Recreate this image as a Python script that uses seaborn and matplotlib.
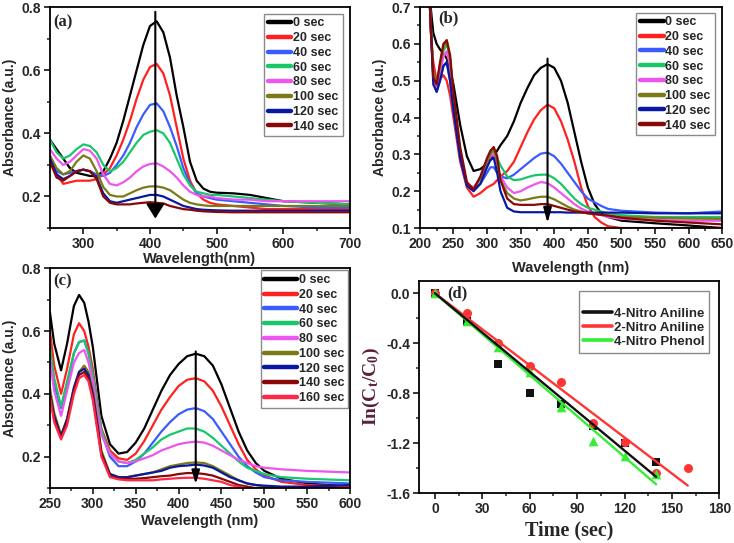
import numpy as np
import pandas as pd
import matplotlib
matplotlib.use("Agg")
import matplotlib.pyplot as plt
from matplotlib.lines import Line2D
from matplotlib.ticker import MultipleLocator, FormatStrFormatter
import seaborn as sns

# ---------------- data ----------------
# panel (a): 4-nitro aniline spectra
wl_a = [250, 260, 270, 280, 290, 300, 310, 320, 330, 340, 350, 360, 370, 380, 390, 400,
        410, 420, 430, 440, 450, 460, 470, 480, 490, 500, 525, 550, 575, 600, 650, 700]
a_0 = [0.38, 0.35, 0.32, 0.29, 0.275, 0.27, 0.265, 0.265, 0.28, 0.32, 0.37, 0.44, 0.52, 0.60, 0.68, 0.74,
       0.755, 0.72, 0.64, 0.52, 0.42, 0.31, 0.25, 0.225, 0.215, 0.212, 0.21, 0.205, 0.195, 0.185, 0.18, 0.175]
a_20 = [0.33, 0.27, 0.24, 0.245, 0.25, 0.25, 0.25, 0.255, 0.27, 0.29, 0.33, 0.38, 0.44, 0.51, 0.57, 0.61,
        0.62, 0.59, 0.52, 0.42, 0.32, 0.25, 0.21, 0.19, 0.18, 0.175, 0.17, 0.165, 0.16, 0.16, 0.16, 0.16]
a_40 = [0.32, 0.28, 0.27, 0.275, 0.28, 0.285, 0.28, 0.27, 0.265, 0.275, 0.30, 0.33, 0.37, 0.42, 0.46, 0.49,
        0.495, 0.47, 0.42, 0.36, 0.29, 0.24, 0.21, 0.20, 0.195, 0.19, 0.185, 0.18, 0.175, 0.17, 0.165, 0.165]
a_60 = [0.38, 0.34, 0.32, 0.33, 0.35, 0.365, 0.36, 0.34, 0.30, 0.28, 0.29, 0.31, 0.34, 0.37, 0.395, 0.405,
        0.41, 0.40, 0.37, 0.32, 0.27, 0.235, 0.215, 0.21, 0.205, 0.205, 0.20, 0.195, 0.19, 0.185, 0.18, 0.175]
a_80 = [0.35, 0.32, 0.30, 0.31, 0.33, 0.35, 0.345, 0.32, 0.27, 0.24, 0.235, 0.245, 0.26, 0.28, 0.295, 0.303,
        0.305, 0.295, 0.28, 0.26, 0.235, 0.215, 0.205, 0.20, 0.20, 0.195, 0.19, 0.19, 0.185, 0.185, 0.185, 0.185]
a_100 = [0.33, 0.29, 0.27, 0.28, 0.31, 0.33, 0.32, 0.28, 0.23, 0.205, 0.20, 0.20, 0.21, 0.22, 0.228, 0.232,
         0.232, 0.228, 0.22, 0.205, 0.19, 0.18, 0.175, 0.172, 0.17, 0.17, 0.17, 0.17, 0.17, 0.17, 0.17, 0.17]
a_120 = [0.32, 0.27, 0.255, 0.265, 0.28, 0.285, 0.28, 0.26, 0.21, 0.185, 0.18, 0.185, 0.19, 0.195, 0.20, 0.205,
         0.205, 0.20, 0.19, 0.18, 0.17, 0.165, 0.16, 0.158, 0.157, 0.156, 0.155, 0.155, 0.155, 0.155, 0.155, 0.155]
a_140 = [0.31, 0.26, 0.25, 0.265, 0.28, 0.285, 0.28, 0.255, 0.20, 0.18, 0.175, 0.175, 0.175, 0.178, 0.18, 0.182,
         0.18, 0.178, 0.17, 0.165, 0.16, 0.158, 0.155, 0.153, 0.152, 0.151, 0.15, 0.15, 0.15, 0.15, 0.15, 0.15]

# panel (b): 2-nitro aniline spectra
wl_b = [215, 220, 225, 230, 235, 240, 245, 250, 260, 270, 280, 290, 300, 305, 310, 315, 320,
        330, 340, 350, 360, 370, 380, 390, 400, 410, 420, 430, 440, 450, 460, 470, 480, 500, 550, 600, 650]
b_0 = [0.72, 0.63, 0.60, 0.585, 0.575, 0.56, 0.53, 0.49, 0.38, 0.295, 0.255, 0.26, 0.275, 0.285, 0.295, 0.31, 0.325,
       0.35, 0.39, 0.44, 0.48, 0.515, 0.535, 0.545, 0.535, 0.50, 0.44, 0.36, 0.28, 0.21, 0.165, 0.14, 0.13, 0.12, 0.113, 0.107, 0.10]
b_20 = [0.66, 0.55, 0.50, 0.505, 0.515, 0.50, 0.46, 0.40, 0.28, 0.21, 0.185, 0.195, 0.21, 0.215, 0.22, 0.23, 0.24,
        0.255, 0.28, 0.32, 0.36, 0.395, 0.42, 0.435, 0.425, 0.39, 0.34, 0.28, 0.21, 0.16, 0.13, 0.115, 0.105, 0.10, 0.10, 0.10, 0.10]
b_40 = [0.68, 0.52, 0.47, 0.50, 0.54, 0.55, 0.50, 0.42, 0.29, 0.215, 0.205, 0.22, 0.25, 0.265, 0.265, 0.25, 0.24,
        0.235, 0.245, 0.26, 0.275, 0.29, 0.302, 0.305, 0.295, 0.275, 0.25, 0.225, 0.20, 0.18, 0.17, 0.16, 0.152, 0.147, 0.142, 0.14, 0.145]
b_60 = [0.70, 0.52, 0.49, 0.54, 0.58, 0.60, 0.56, 0.45, 0.30, 0.22, 0.21, 0.235, 0.28, 0.30, 0.31, 0.29, 0.27,
        0.24, 0.23, 0.232, 0.238, 0.243, 0.245, 0.245, 0.235, 0.22, 0.20, 0.18, 0.165, 0.155, 0.15, 0.145, 0.14, 0.135, 0.13, 0.13, 0.13]
b_80 = [0.70, 0.50, 0.48, 0.52, 0.565, 0.58, 0.54, 0.44, 0.30, 0.22, 0.21, 0.235, 0.275, 0.295, 0.30, 0.27, 0.24,
        0.21, 0.195, 0.20, 0.21, 0.218, 0.225, 0.222, 0.21, 0.195, 0.18, 0.165, 0.153, 0.145, 0.14, 0.135, 0.13, 0.125, 0.122, 0.12, 0.12]
b_100 = [0.70, 0.51, 0.49, 0.54, 0.59, 0.61, 0.56, 0.45, 0.30, 0.215, 0.205, 0.235, 0.28, 0.30, 0.315, 0.28, 0.23,
         0.195, 0.18, 0.175, 0.178, 0.182, 0.185, 0.185, 0.178, 0.168, 0.158, 0.15, 0.145, 0.14, 0.138, 0.136, 0.134, 0.13, 0.128, 0.126, 0.125]
b_120 = [0.70, 0.49, 0.47, 0.50, 0.54, 0.55, 0.50, 0.42, 0.29, 0.215, 0.20, 0.22, 0.265, 0.285, 0.29, 0.25, 0.20,
         0.155, 0.145, 0.143, 0.143, 0.143, 0.143, 0.143, 0.143, 0.143, 0.142, 0.142, 0.142, 0.142, 0.142, 0.142, 0.142, 0.142, 0.14, 0.14, 0.14]
b_140 = [0.70, 0.51, 0.49, 0.55, 0.60, 0.61, 0.57, 0.47, 0.32, 0.225, 0.205, 0.24, 0.29, 0.31, 0.32, 0.295, 0.23,
         0.18, 0.165, 0.163, 0.163, 0.163, 0.165, 0.165, 0.16, 0.155, 0.15, 0.145, 0.143, 0.14, 0.138, 0.136, 0.134, 0.128, 0.12, 0.115, 0.11]

# panel (c): 4-nitro phenol spectra
wl_c = [250, 255, 263, 270, 278, 284, 290, 295, 300, 305, 310, 320, 330, 340, 350, 360, 370, 380, 390,
        400, 410, 420, 430, 440, 450, 460, 470, 480, 490, 500, 520, 550, 600]
c_0 = [0.66, 0.56, 0.475, 0.56, 0.68, 0.715, 0.69, 0.63, 0.55, 0.44, 0.33, 0.24, 0.21, 0.215, 0.245, 0.29, 0.35, 0.41, 0.46,
       0.495, 0.52, 0.528, 0.52, 0.49, 0.43, 0.355, 0.28, 0.22, 0.18, 0.155, 0.13, 0.115, 0.105]
c_20 = [0.60, 0.49, 0.40, 0.48, 0.59, 0.625, 0.60, 0.55, 0.48, 0.38, 0.29, 0.22, 0.195, 0.19, 0.21, 0.25, 0.30, 0.35, 0.39,
        0.425, 0.445, 0.45, 0.44, 0.41, 0.36, 0.30, 0.24, 0.19, 0.16, 0.14, 0.12, 0.11, 0.105]
c_40 = [0.52, 0.43, 0.355, 0.43, 0.53, 0.565, 0.57, 0.53, 0.46, 0.37, 0.28, 0.20, 0.17, 0.17, 0.185, 0.21, 0.245, 0.28, 0.31,
        0.335, 0.35, 0.355, 0.345, 0.32, 0.28, 0.24, 0.20, 0.17, 0.15, 0.135, 0.125, 0.12, 0.115]
c_60 = [0.55, 0.45, 0.36, 0.44, 0.53, 0.565, 0.57, 0.53, 0.46, 0.37, 0.285, 0.21, 0.185, 0.18, 0.19, 0.21, 0.23, 0.255, 0.27,
        0.28, 0.29, 0.29, 0.28, 0.26, 0.235, 0.21, 0.185, 0.165, 0.155, 0.145, 0.135, 0.13, 0.125]
c_80 = [0.51, 0.41, 0.33, 0.41, 0.50, 0.53, 0.54, 0.50, 0.44, 0.35, 0.27, 0.21, 0.185, 0.18, 0.185, 0.195, 0.205, 0.22, 0.23,
        0.24, 0.245, 0.248, 0.245, 0.235, 0.22, 0.205, 0.19, 0.18, 0.17, 0.165, 0.16, 0.155, 0.15]
c_100 = [0.42, 0.34, 0.27, 0.32, 0.42, 0.47, 0.49, 0.47, 0.41, 0.32, 0.22, 0.145, 0.135, 0.135, 0.14, 0.145, 0.15, 0.16, 0.17,
         0.175, 0.18, 0.182, 0.18, 0.17, 0.155, 0.14, 0.125, 0.115, 0.11, 0.105, 0.10, 0.10, 0.10]
c_120 = [0.40, 0.33, 0.265, 0.32, 0.42, 0.47, 0.48, 0.46, 0.40, 0.31, 0.21, 0.145, 0.135, 0.135, 0.14, 0.145, 0.15, 0.155, 0.165,
         0.17, 0.172, 0.175, 0.172, 0.165, 0.15, 0.135, 0.125, 0.115, 0.11, 0.108, 0.105, 0.105, 0.11]
c_140 = [0.40, 0.32, 0.26, 0.31, 0.41, 0.46, 0.47, 0.45, 0.39, 0.30, 0.21, 0.14, 0.13, 0.13, 0.13, 0.132, 0.135, 0.138, 0.14,
         0.145, 0.148, 0.148, 0.145, 0.14, 0.13, 0.12, 0.11, 0.105, 0.10, 0.10, 0.10, 0.10, 0.10]
c_160 = [0.39, 0.31, 0.255, 0.30, 0.40, 0.45, 0.46, 0.44, 0.38, 0.29, 0.20, 0.135, 0.128, 0.125, 0.125, 0.125, 0.125, 0.128, 0.13,
         0.132, 0.133, 0.133, 0.13, 0.125, 0.12, 0.11, 0.105, 0.10, 0.10, 0.10, 0.10, 0.10, 0.10]

time_labels = ["0 sec", "20 sec", "40 sec", "60 sec", "80 sec", "100 sec", "120 sec", "140 sec", "160 sec"]
spec_colors = ["#000000", "#ff2020", "#3a5cff", "#19c66a", "#ee55ee", "#7a7a18", "#0a18a0", "#880808", "#ff2848"]

# panel (d): kinetics
t_na4 = [0, 20, 40, 60, 80, 100, 120, 140]
ln_na4 = [0.0, -0.22, -0.57, -0.80, -0.89, -1.06, -1.20, -1.35]
t_na2 = [0, 20, 40, 60, 80, 100, 120, 140, 160]
ln_na2 = [0.0, -0.16, -0.40, -0.58, -0.71, -1.04, -1.19, -1.44, -1.40]
t_np4 = [0, 20, 40, 60, 80, 100, 120, 140]
ln_np4 = [0.0, -0.22, -0.43, -0.63, -0.91, -1.18, -1.30, -1.45]
fit_t_na4, fit_na4 = [0, 140], [0.0, -1.47]
fit_t_na2, fit_na2 = [0, 160], [0.0, -1.54]
fit_t_np4, fit_np4 = [0, 140], [0.0, -1.53]
kin_labels = ["4-Nitro Aniline", "2-Nitro Aniline", "4-Nitro Phenol"]
kin_colors = ["#111111", "#ff3535", "#33ee33"]

# ---------------- style ----------------
sns.set_style("ticks")
plt.rcParams["font.family"] = ["Liberation Sans", "DejaVu Sans"]
plt.rcParams["axes.unicode_minus"] = False
plt.rcParams["mathtext.fontset"] = "custom"
plt.rcParams["mathtext.rm"] = "Liberation Serif:bold"
plt.rcParams["mathtext.it"] = "Liberation Serif:bold"
plt.rcParams["mathtext.bf"] = "Liberation Serif:bold"

fig = plt.figure(figsize=(7.34, 5.43), dpi=100)
fig.patch.set_facecolor("white")

ax_a = fig.add_axes([0.068, 0.580, 0.409, 0.407])
ax_b = fig.add_axes([0.572, 0.580, 0.412, 0.407])
ax_c = fig.add_axes([0.068, 0.101, 0.409, 0.405])
ax_d = fig.add_axes([0.571, 0.092, 0.409, 0.391])


def style_axes(ax, xlim, ylim, xmaj, xmin_, ymaj, ymin_, yfmt):
    ax.set_xlim(*xlim)
    ax.set_ylim(*ylim)
    ax.xaxis.set_major_locator(MultipleLocator(xmaj))
    ax.xaxis.set_minor_locator(MultipleLocator(xmin_))
    ax.yaxis.set_major_locator(MultipleLocator(ymaj))
    ax.yaxis.set_minor_locator(MultipleLocator(ymin_))
    ax.yaxis.set_major_formatter(FormatStrFormatter(yfmt))
    ax.tick_params(which="major", direction="out", length=4.5, width=1.3, pad=2,
                   top=False, right=False, labelsize=10)
    ax.tick_params(which="minor", direction="out", length=2.5, width=1.1, top=False, right=False)
    for lab in ax.get_xticklabels() + ax.get_yticklabels():
        lab.set_fontweight("bold")
    for sp in ax.spines.values():
        sp.set_visible(True)
        sp.set_linewidth(1.3)
        sp.set_color("black")


def spectra(ax, wl, series, n, anchor, letter, letter_xy, arrow, head, hlen):
    for vals, lab, col in zip(series, time_labels[:n], spec_colors[:n]):
        sns.lineplot(x=wl, y=vals, ax=ax, color=col, lw=1.6, sort=False, legend=False)
    handles = [Line2D([], [], color=c, lw=3.2) for c in spec_colors[:n]]
    leg = ax.legend(handles, time_labels[:n], loc="upper right", bbox_to_anchor=anchor,
                    frameon=True, fancybox=False, edgecolor="#8a8a8a", framealpha=1,
                    prop=dict(weight="bold", size=9), handlelength=hlen, handletextpad=0.15,
                    labelspacing=0.22, borderpad=0.3, borderaxespad=0)
    leg.get_frame().set_linewidth(1.0)
    ax.text(letter_xy[0], letter_xy[1], letter, transform=ax.transAxes, family="Liberation Serif",
            fontweight="bold", fontsize=12, ha="left", va="center")
    x0, ytop, ybot = arrow
    ax.annotate("", xy=(x0, ybot), xytext=(x0, ytop),
                arrowprops=dict(arrowstyle="-|>,head_length=%g,head_width=%g" % head,
                                mutation_scale=20, lw=1.5, color="black",
                                shrinkA=0, shrinkB=0))
    ax.set_ylabel("Absorbance (a.u.)", fontsize=10, fontweight="bold", labelpad=3)


# (a)
spectra(ax_a, wl_a, [a_0, a_20, a_40, a_60, a_80, a_100, a_120, a_140], 8,
        (0.975, 0.97), "(a)", (0.012, 0.93), (408, 0.785, 0.13), (0.45, 0.28), 1.9)
style_axes(ax_a, (250, 700), (0.1, 0.8), 100, 50, 0.2, 0.1, "%.1f")
ax_a.set_xlabel("Wavelength(nm)", fontsize=10.5, fontweight="bold", labelpad=1)

# (b)
spectra(ax_b, wl_b, [b_0, b_20, b_40, b_60, b_80, b_100, b_120, b_140], 8,
        (0.975, 0.975), "(b)", (0.062, 0.95), (390, 0.56, 0.113), (0.45, 0.12), 1.9)
style_axes(ax_b, (200, 650), (0.1, 0.7), 50, 25, 0.1, 0.05, "%.1f")
ax_b.set_xlabel("Wavelength (nm)", fontsize=10.5, fontweight="bold", labelpad=7)

# (c)
spectra(ax_c, wl_c, [c_0, c_20, c_40, c_60, c_80, c_100, c_120, c_140, c_160], 9,
        (0.993, 0.99), "(c)", (0.012, 0.94), (420, 0.535, 0.113), (0.4, 0.12), 2.6)
style_axes(ax_c, (250, 600), (0.1, 0.8), 50, 25, 0.2, 0.1, "%.1f")
ax_c.set_xlabel("Wavelength (nm)", fontsize=10.5, fontweight="bold", labelpad=2)

# (d)
sns.scatterplot(x=t_na4, y=ln_na4, ax=ax_d, marker="s", s=32, color=kin_colors[0], linewidth=0, zorder=3)
sns.scatterplot(x=t_na2, y=ln_na2, ax=ax_d, marker="o", s=42, color=kin_colors[1], linewidth=0, zorder=3)
sns.scatterplot(x=t_np4, y=ln_np4, ax=ax_d, marker="^", s=48, color=kin_colors[2], linewidth=0, zorder=3)
sns.lineplot(x=fit_t_na2, y=fit_na2, ax=ax_d, color=kin_colors[1], lw=1.7, zorder=4)
sns.lineplot(x=fit_t_np4, y=fit_np4, ax=ax_d, color=kin_colors[2], lw=1.7, zorder=4)
sns.lineplot(x=fit_t_na4, y=fit_na4, ax=ax_d, color=kin_colors[0], lw=1.7, zorder=5)
style_axes(ax_d, (-10, 180), (-1.6, 0.1), 30, 15, 0.4, 0.2, "%.1f")
handles = [Line2D([], [], color=c, lw=2.6) for c in kin_colors]
leg = ax_d.legend(handles, kin_labels, loc="upper right", bbox_to_anchor=(0.967, 0.953),
                  frameon=True, fancybox=False, edgecolor="#8a8a8a", framealpha=1,
                  prop=dict(weight="bold", size=9.5), handlelength=2.2, handletextpad=0.15,
                  labelspacing=0.15, borderpad=0.35, borderaxespad=0,
                  title=" ", title_fontsize=8)
leg.get_frame().set_linewidth(1.0)
ax_d.text(0.093, 0.94, "(d)", transform=ax_d.transAxes, family="Liberation Serif",
          fontweight="bold", fontsize=12, ha="left", va="center")
ax_d.set_xlabel("Time (sec)", family="Liberation Serif", fontsize=14.5, fontweight="bold", labelpad=3)
ax_d.set_ylabel(r"In(C$_{\mathrm{t}}$/C$_{\mathrm{0}}$)", family="Liberation Serif", fontsize=14,
                fontweight="bold", color="#5a1f3c", labelpad=3)

fig.savefig("out.png", dpi=100, facecolor="white")
